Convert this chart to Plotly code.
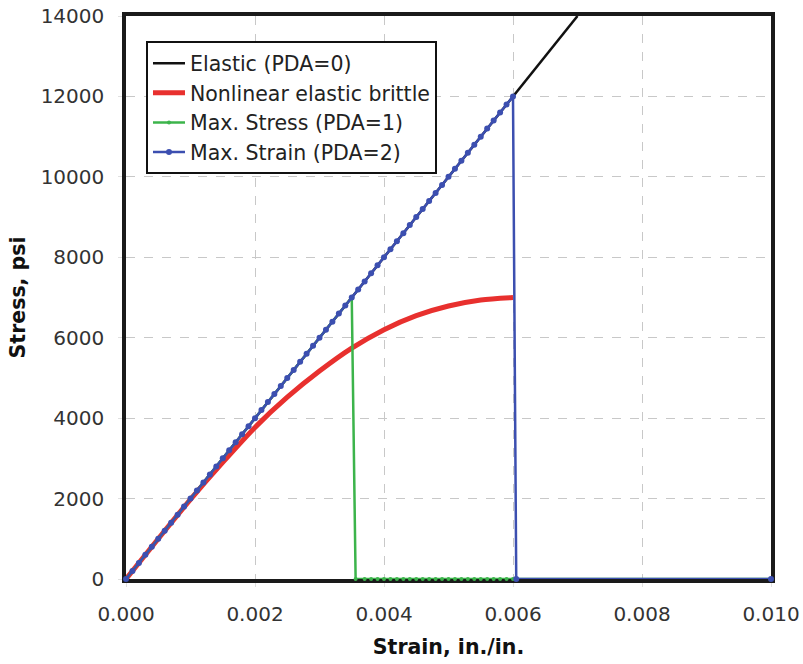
import plotly.graph_objects as go

# ---- data ----
elastic_strain = [0.0, 0.007]
elastic_stress = [0, 14000]

nonlin_strain = [0.0, 0.0005, 0.001, 0.0015, 0.002, 0.0025, 0.003, 0.0035,
                 0.004, 0.0045, 0.005, 0.0055, 0.006]
nonlin_stress = [0, 1000, 1980, 2900, 3770, 4520, 5170, 5740,
                 6200, 6550, 6790, 6940, 7000]

stress_strain = [0.0, 0.0001, 0.0002, 0.0003, 0.0004, 0.0005, 0.0006, 0.0007, 0.0008, 0.0009,
                 0.0010, 0.0011, 0.0012, 0.0013, 0.0014, 0.0015, 0.0016, 0.0017, 0.0018, 0.0019,
                 0.0020, 0.0021, 0.0022, 0.0023, 0.0024, 0.0025, 0.0026, 0.0027, 0.0028, 0.0029,
                 0.0030, 0.0031, 0.0032, 0.0033, 0.0034, 0.0035, 0.00356,
                 0.0037, 0.0038, 0.0039, 0.0040, 0.0041, 0.0042, 0.0043, 0.0044, 0.0045,
                 0.0046, 0.0047, 0.0048, 0.0049, 0.0050, 0.0051, 0.0052, 0.0053, 0.0054,
                 0.0055, 0.0056, 0.0057, 0.0058, 0.0059, 0.0060, 0.0100]
stress_stress = [0, 200, 400, 600, 800, 1000, 1200, 1400, 1600, 1800,
                 2000, 2200, 2400, 2600, 2800, 3000, 3200, 3400, 3600, 3800,
                 4000, 4200, 4400, 4600, 4800, 5000, 5200, 5400, 5600, 5800,
                 6000, 6200, 6400, 6600, 6800, 7000, 0,
                 0, 0, 0, 0, 0, 0, 0, 0, 0,
                 0, 0, 0, 0, 0, 0, 0, 0, 0,
                 0, 0, 0, 0, 0, 0, 0]

strain_strain = [0.0, 0.0001, 0.0002, 0.0003, 0.0004, 0.0005, 0.0006, 0.0007, 0.0008, 0.0009,
                 0.0010, 0.0011, 0.0012, 0.0013, 0.0014, 0.0015, 0.0016, 0.0017, 0.0018, 0.0019,
                 0.0020, 0.0021, 0.0022, 0.0023, 0.0024, 0.0025, 0.0026, 0.0027, 0.0028, 0.0029,
                 0.0030, 0.0031, 0.0032, 0.0033, 0.0034, 0.0035, 0.0036, 0.0037, 0.0038, 0.0039,
                 0.0040, 0.0041, 0.0042, 0.0043, 0.0044, 0.0045, 0.0046, 0.0047, 0.0048, 0.0049,
                 0.0050, 0.0051, 0.0052, 0.0053, 0.0054, 0.0055, 0.0056, 0.0057, 0.0058, 0.0059,
                 0.0060, 0.00605, 0.0100]
strain_stress = [0, 200, 400, 600, 800, 1000, 1200, 1400, 1600, 1800,
                 2000, 2200, 2400, 2600, 2800, 3000, 3200, 3400, 3600, 3800,
                 4000, 4200, 4400, 4600, 4800, 5000, 5200, 5400, 5600, 5800,
                 6000, 6200, 6400, 6600, 6800, 7000, 7200, 7400, 7600, 7800,
                 8000, 8200, 8400, 8600, 8800, 9000, 9200, 9400, 9600, 9800,
                 10000, 10200, 10400, 10600, 10800, 11000, 11200, 11400, 11600, 11800,
                 12000, 0, 0]

x_ticks = [0.0, 0.002, 0.004, 0.006, 0.008, 0.010]
x_tick_labels = ["0.000", "0.002", "0.004", "0.006", "0.008", "0.010"]
y_ticks = [0, 2000, 4000, 6000, 8000, 10000, 12000, 14000]
y_tick_labels = ["0", "2000", "4000", "6000", "8000", "10000", "12000", "14000"]

FONT = "DejaVu Sans"

fig = go.Figure()
fig.add_trace(go.Scatter(x=elastic_strain, y=elastic_stress, mode="lines",
                         name="Elastic (PDA=0)", line=dict(color="#111111", width=2.5),
                         cliponaxis=False))
fig.add_trace(go.Scatter(x=nonlin_strain, y=nonlin_stress, mode="lines",
                         name="Nonlinear elastic brittle",
                         line=dict(color="#e8302e", width=5, shape="spline", smoothing=0.8),
                         cliponaxis=False))
fig.add_trace(go.Scatter(x=stress_strain, y=stress_stress, mode="lines+markers",
                         name="Max. Stress (PDA=1)",
                         line=dict(color="#3cb44b", width=2.5),
                         marker=dict(color="#3cb44b", size=4, symbol="circle"),
                         cliponaxis=False))
fig.add_trace(go.Scatter(x=strain_strain, y=strain_stress, mode="lines+markers",
                         name="Max. Strain (PDA=2)",
                         line=dict(color="#3c4fb0", width=2.5),
                         marker=dict(color="#3c4fb0", size=6, symbol="circle"),
                         cliponaxis=False))

axis_common = dict(showline=True, linecolor="#1a1a1a", linewidth=3.5, mirror=True,
                   showgrid=True, gridcolor="#c8c8c8", griddash="dash", gridwidth=1.2,
                   zeroline=False, ticks="outside", ticklen=4, tickcolor="#e0e0e0",
                   tickfont=dict(family=FONT, size=20, color="#333333"),
                   layer="below traces", automargin=False)

fig.update_layout(
    width=803, height=664,
    margin=dict(l=126, r=32, t=16, b=85),
    paper_bgcolor="white", plot_bgcolor="white",
    font=dict(family=FONT, size=20, color="#222222"),
    showlegend=True,
    legend=dict(x=0.031, y=0.955, xanchor="left", yanchor="top",
                bgcolor="white", bordercolor="#111111", borderwidth=2,
                font=dict(family=FONT, size=20.5, color="#222222"),
                tracegroupgap=0, itemwidth=32),
    xaxis=dict(range=[0, 0.010], tickvals=x_ticks, ticktext=x_tick_labels,
               ticklabelstandoff=10,
               title=dict(text="<b>Strain, in./in.</b>", font=dict(family=FONT, size=20.5, color="#111111"),
                          standoff=16),
               **axis_common),
    yaxis=dict(range=[0, 14000], tickvals=y_ticks, ticktext=y_tick_labels,
               ticklabelstandoff=10,
               title=dict(text="<b>Stress, psi</b>", font=dict(family=FONT, size=20.5, color="#111111"),
                          standoff=10),
               **axis_common),
)

fig.write_html("out.html")
